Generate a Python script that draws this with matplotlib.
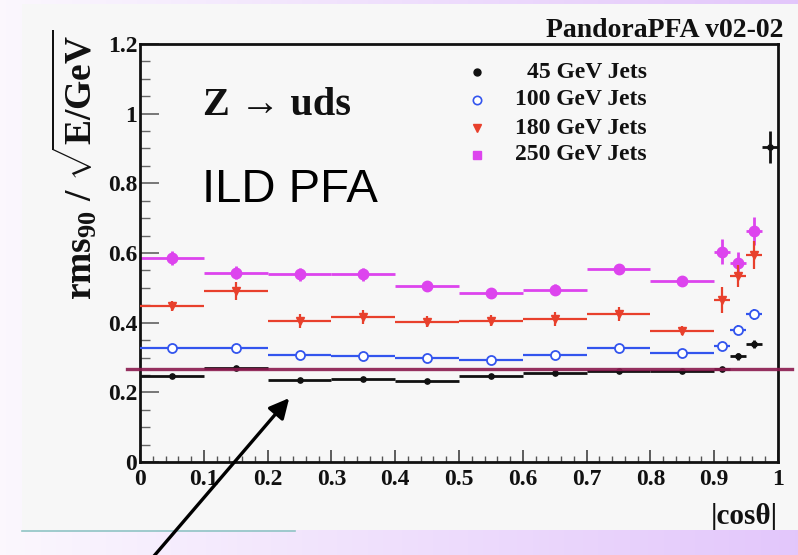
import numpy as np
import matplotlib
matplotlib.use('Agg')
import matplotlib.pyplot as plt
from matplotlib.patches import Rectangle, FancyArrowPatch
from matplotlib.ticker import MultipleLocator

# ---------------- data ----------------
x_bins = [0.05, 0.15, 0.25, 0.35, 0.45, 0.55, 0.65, 0.75, 0.85, 0.9125, 0.9375, 0.9625]
x_errs = [0.05, 0.05, 0.05, 0.05, 0.05, 0.05, 0.05, 0.05, 0.05, 0.0125, 0.0125, 0.0125]

x_45 = x_bins + [0.9875]
xe_45 = x_errs + [0.0125]
y_45 = [0.247, 0.269, 0.235, 0.238, 0.233, 0.248, 0.255, 0.261, 0.262, 0.267, 0.304, 0.338, 0.904]
ye_45 = [0.004, 0.004, 0.004, 0.004, 0.004, 0.004, 0.004, 0.004, 0.004, 0.006, 0.010, 0.012, 0.047]

y_100 = [0.326, 0.326, 0.307, 0.305, 0.298, 0.293, 0.307, 0.326, 0.312, 0.333, 0.379, 0.424]
ye_100 = [0.004, 0.004, 0.004, 0.004, 0.004, 0.004, 0.004, 0.004, 0.004, 0.012, 0.014, 0.016]

y_180 = [0.448, 0.491, 0.406, 0.415, 0.403, 0.406, 0.410, 0.425, 0.377, 0.465, 0.534, 0.594]
ye_180 = [0.015, 0.025, 0.020, 0.020, 0.015, 0.015, 0.020, 0.020, 0.012, 0.038, 0.031, 0.040]

y_250 = [0.585, 0.544, 0.539, 0.539, 0.505, 0.484, 0.495, 0.553, 0.519, 0.603, 0.570, 0.663]
ye_250 = [0.020, 0.020, 0.018, 0.018, 0.015, 0.012, 0.015, 0.012, 0.010, 0.036, 0.033, 0.040]

legend_labels = ['45 GeV Jets', '100 GeV Jets', '180 GeV Jets', '250 GeV Jets']
ref_line = 0.266

x_ticks = [0, 0.1, 0.2, 0.3, 0.4, 0.5, 0.6, 0.7, 0.8, 0.9, 1]
x_ticklabels = ['0', '0.1', '0.2', '0.3', '0.4', '0.5', '0.6', '0.7', '0.8', '0.9', '1']
y_ticks = [0, 0.2, 0.4, 0.6, 0.8, 1.0, 1.2]
y_ticklabels = ['0', '0.2', '0.4', '0.6', '0.8', '1', '1.2']

# ---------------- style ----------------
W, H = 798, 555
plt.rcParams['mathtext.fontset'] = 'custom'
plt.rcParams['mathtext.rm'] = 'Liberation Serif:bold'
plt.rcParams['mathtext.bf'] = 'Liberation Serif:bold'
plt.rcParams['mathtext.it'] = 'Liberation Serif:bold'
SERIF = 'Liberation Serif'

def fx(px):
    return px / W

def fy(py):
    return 1 - py / H

fig = plt.figure(figsize=(W / 100, H / 100), dpi=100)

# background gradient
bg = fig.add_axes([0, 0, 1, 1], zorder=-10)
bg.set_axis_off()
c0 = np.array([0.985, 0.970, 0.995])
c1 = np.array([0.890, 0.780, 0.985])
t = np.linspace(0, 1, 256)
grad = c0[None, :] + (c1 - c0)[None, :] * t[:, None]
bg.imshow(grad[None, :, :], aspect='auto', extent=[0, 1, 0, 1])
bg.set_xlim(0, 1)
bg.set_ylim(0, 1)
bg.add_patch(Rectangle((fx(22), fy(530)), 1 - fx(22), fy(4) - fy(530),
                       facecolor='#f7f7f7', edgecolor='none'))
bg.plot([fx(22), fx(295)], [fy(531), fy(531)], color='#8fc4c4', lw=1.2)

# main axes
ax = fig.add_axes([fx(140), fy(462), fx(778) - fx(140), fy(44) - fy(462)])
ax.set_facecolor('#f7f7f7')
ax.set_xlim(0, 1)
ax.set_ylim(0, 1.2)

for s in ax.spines.values():
    s.set_linewidth(2.0)
    s.set_color('#111111')

ax.set_xticks(x_ticks)
ax.set_xticklabels(x_ticklabels)
ax.set_yticks(y_ticks)
ax.set_yticklabels(y_ticklabels)
ax.xaxis.set_minor_locator(MultipleLocator(0.02))
ax.yaxis.set_minor_locator(MultipleLocator(0.05))
ax.tick_params(axis='y', which='major', direction='in', length=13.5, width=1.1, color='#555555', pad=2)
ax.tick_params(axis='y', which='minor', direction='in', length=7, width=1.0, color='#666666')
ax.tick_params(axis='x', which='major', direction='in', length=8.5, width=1.1, color='#333333', pad=5)
ax.tick_params(axis='x', which='minor', direction='in', length=4.3, width=1.0, color='#555555')
for lab in ax.get_xticklabels() + ax.get_yticklabels():
    lab.set_fontfamily(SERIF)
    lab.set_fontweight('bold')
    lab.set_fontsize(17)
    lab.set_color('#111111')

# series
ax.errorbar(x_45, y_45, xerr=xe_45, yerr=ye_45, fmt='o', color='#111111',
            ms=3.8, elinewidth=2.0, capsize=0, zorder=5)
ax.errorbar(x_bins, y_100, xerr=x_errs, yerr=ye_100, fmt='o', color='#3355ee',
            mfc='white', mec='#3355ee', mew=1.3, ms=6.5, elinewidth=1.6, capsize=0, zorder=4)
ax.errorbar(x_bins, y_180, xerr=x_errs, yerr=ye_180, fmt='v', color='#e8402c',
            ms=5.5, elinewidth=1.6, capsize=0, zorder=3)
ax.errorbar(x_bins, y_250, xerr=x_errs, yerr=ye_250, fmt='o', color='#dd44ee',
            ms=7.5, elinewidth=2.0, capsize=0, zorder=2)

# reference line overlay
ax.axhline(ref_line, xmin=(127 - 140) / 638, xmax=(792 - 140) / 638, color='#8a1a4e',
           lw=2.4, alpha=0.9, clip_on=False, zorder=6)

# legend (manual, ROOT style)
leg_rows = [72, 100, 128, 155]
leg_styles = [dict(marker='o', color='#111111', ms=5, mfc='#111111'),
              dict(marker='o', color='#3355ee', ms=6, mfc='white', mew=1.2),
              dict(marker='v', color='#e8402c', ms=6, mfc='#e8402c'),
              dict(marker='s', color='#dd44ee', ms=6, mfc='#dd44ee')]
for lab, row, st in zip(legend_labels, leg_rows, leg_styles):
    ax.plot([(477 - 140) / 638], [(462 - row) / 418], linestyle='none',
            transform=ax.transAxes, clip_on=False, **st)
    fig.text(fx(647), fy(row), lab, ha='right', va='center', fontsize=17,
             fontfamily=SERIF, fontweight='bold', color='#111111')

# texts
fig.text(fx(783), fy(37), 'PandoraPFA v02-02', ha='right', va='baseline', fontsize=20,
         fontfamily=SERIF, fontweight='bold', color='#111111')
fig.text(fx(203), fy(115), 'Z \u2192 uds', ha='left', va='baseline', fontsize=29,
         fontfamily=SERIF, fontweight='bold', color='#111111')
fig.text(fx(202), fy(202), 'ILD PFA', ha='left', va='baseline', fontsize=34,
         fontfamily='Liberation Sans', color='#000000')
fig.text(fx(778), fy(530), '|cos\u03b8|', ha='right', va='bottom', fontsize=21,
         fontfamily=SERIF, fontweight='bold', color='#111111')
fig.text(fx(75), fy(165), r'rms$_{90}$ / $\sqrt{\mathrm{E/GeV}}$', rotation=90,
         ha='center', va='center', fontsize=27, fontfamily=SERIF, fontweight='bold',
         color='#111111')

# arrow
arr = FancyArrowPatch(posA=(148, -8), posB=(291, H - 396), transform=None,
                      arrowstyle='-|>,head_length=12,head_width=6', lw=2.4,
                      color='black', mutation_scale=1, zorder=20)
fig.add_artist(arr)

fig.savefig('out.png', dpi=100)
